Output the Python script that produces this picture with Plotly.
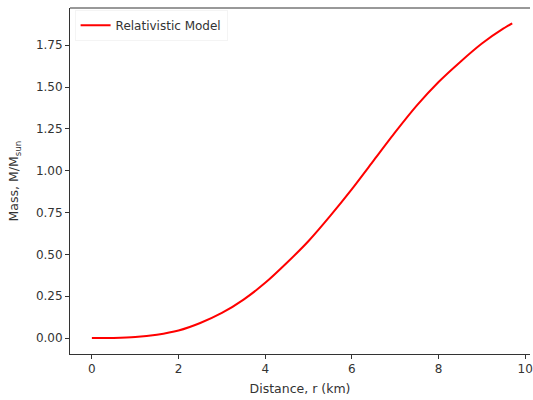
import plotly.graph_objects as go

# Data
radius_km = [0, 0.5, 1, 1.5, 2, 2.5, 3, 3.5, 4, 4.5, 5, 5.5, 6, 6.5, 7, 7.5, 8, 8.5, 9, 9.5, 9.7]
mass_msun = [0, 0.001, 0.006, 0.02, 0.045, 0.09, 0.15, 0.23, 0.33, 0.45, 0.58, 0.73, 0.89, 1.06,
             1.23, 1.39, 1.53, 1.65, 1.76, 1.85, 1.88]
series_name = "Relativistic Model"
x_ticks = [0, 2, 4, 6, 8, 10]
y_ticks = [0.0, 0.25, 0.5, 0.75, 1.0, 1.25, 1.5, 1.75]

font_family = "DejaVu Sans, Liberation Sans, sans-serif"
axis_color = "#333333"

fig = go.Figure()
fig.add_trace(go.Scatter(
    x=radius_km, y=mass_msun, mode="lines", name=series_name,
    line=dict(color="#ff0000", width=2, shape="spline", smoothing=0.6),
    showlegend=True,
))

fig.update_layout(
    width=533, height=400,
    margin=dict(l=70, r=0, t=8, b=46),
    paper_bgcolor="white", plot_bgcolor="white",
    font=dict(family=font_family, size=12, color="#333333"),
    showlegend=True,
    legend=dict(
        x=0.01, y=0.995, xanchor="left", yanchor="top",
        bgcolor="rgba(255,255,255,0.8)", bordercolor="#f4f4f4", borderwidth=1,
        font=dict(size=12, color="#333333"),
    ),
    xaxis=dict(
        range=[-0.505, 10.11], tickvals=x_ticks, ticks="outside", ticklen=4,
        tickcolor=axis_color, showline=True, linecolor=axis_color, linewidth=1,
        showgrid=False, zeroline=False, tickfont=dict(size=12),
        ticklabeloverflow="allow",
        title=dict(text="Distance, r (km)", font=dict(size=12.5), standoff=8),
    ),
    yaxis=dict(
        range=[-0.095, 1.972], tickvals=y_ticks, tickformat=".2f", ticks="outside", ticklen=4,
        tickcolor=axis_color, showline=True, linecolor=axis_color, linewidth=1,
        showgrid=False, zeroline=False, tickfont=dict(size=12),
        title=dict(text="Mass, M/M<sub>sun</sub>", font=dict(size=12.5), standoff=14),
    ),
    shapes=[dict(type="line", xref="paper", yref="paper", x0=0, x1=1, y0=1, y1=1,
                 line=dict(color=axis_color, width=1))],
)

fig.write_html("out.html", config={"displayModeBar": False},
               post_script="document.body.style.margin='0';document.body.style.overflow='hidden';")
